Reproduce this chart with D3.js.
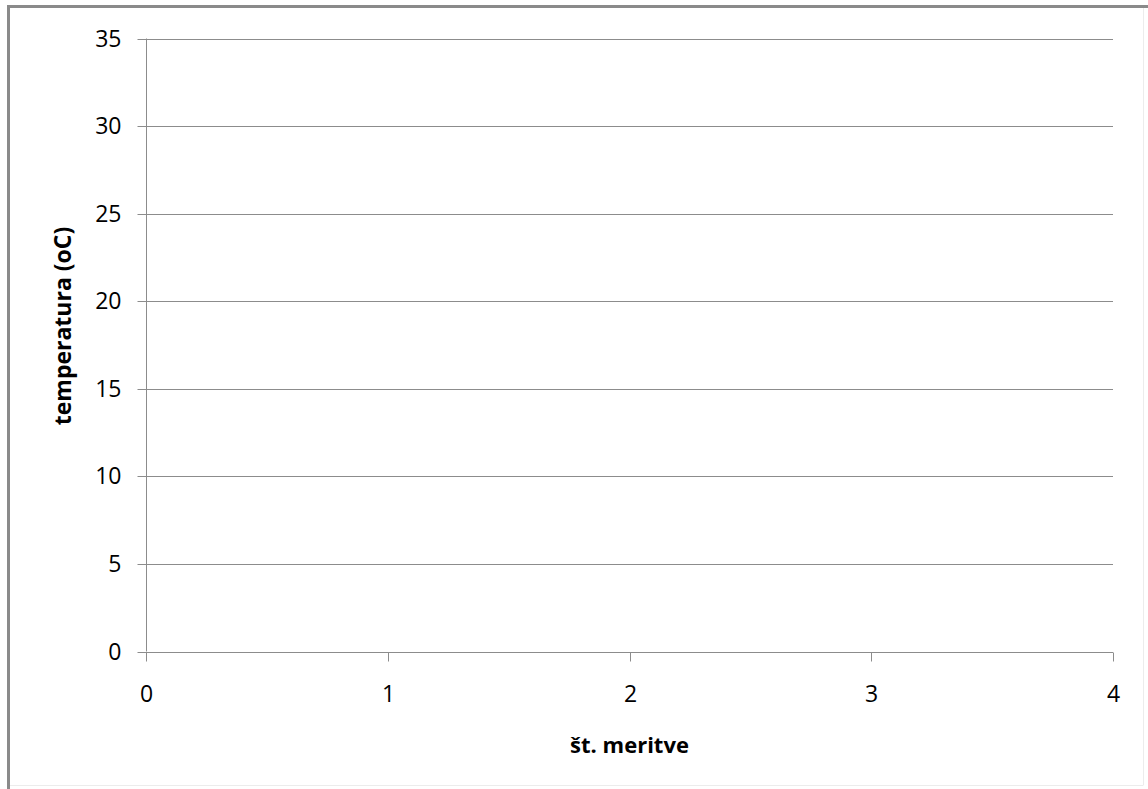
<!DOCTYPE html>
<html>
<head>
<meta charset="utf-8">
<script src="https://cdn.jsdelivr.net/npm/d3@7"></script>
<style>
  html, body { margin: 0; padding: 0; background: #fff; }
  svg { display: block; }
  text { font-family: "Open Sans", "Noto Sans", sans-serif; fill: #000; }
</style>
</head>
<body>
<svg id="chart" width="1148" height="789"></svg>
<script>
// Data (the chart contains no series, only empty axes)
const xTicks = [0, 1, 2, 3, 4];
const yTicks = [0, 5, 10, 15, 20, 25, 30, 35];
const seriesValues = [];
const xTitle = "št. meritve";
const yTitle = "temperatura (oC)";

const svg = d3.select("#chart");
const W = 1148, H = 789;
const plot = { left: 146, right: 1113, top: 38.5, bottom: 651.5 };

// outer chart-area border
svg.append("rect").attr("x", 0).attr("y", 0).attr("width", W).attr("height", H).attr("fill", "#fff");
svg.append("line").attr("x1", 7.5).attr("x2", W).attr("y1", 6.5).attr("y2", 6.5)
  .attr("stroke", "#8a8a8a").attr("stroke-width", 3);
svg.append("line").attr("x1", 8.5).attr("x2", 8.5).attr("y1", 5).attr("y2", H)
  .attr("stroke", "#8a8a8a").attr("stroke-width", 3);
svg.append("line").attr("x1", 1143.5).attr("x2", 1143.5).attr("y1", 8).attr("y2", 785)
  .attr("stroke", "#ececec").attr("stroke-width", 1);
svg.append("line").attr("x1", 10).attr("x2", 1143.5).attr("y1", 785.5).attr("y2", 785.5)
  .attr("stroke", "#ececec").attr("stroke-width", 1);

const x = d3.scaleLinear().domain([0, 4]).range([plot.left, plot.right]);
const y = d3.scaleLinear().domain([0, 35]).range([plot.bottom, plot.top]);

const gridColor = "#8c8c8c";

// horizontal gridlines
svg.append("g").selectAll("line").data(yTicks.filter(d => d > 0)).join("line")
  .attr("x1", plot.left).attr("x2", plot.right)
  .attr("y1", d => Math.round(y(d)) + 0.5).attr("y2", d => Math.round(y(d)) + 0.5)
  .attr("stroke", gridColor).attr("stroke-width", 1);

// y axis
const yAxis = d3.axisLeft(y).tickValues(yTicks).tickSize(9).tickPadding(16)
  .tickFormat(d3.format("d"));
const gy = svg.append("g").attr("transform", `translate(${Math.round(plot.left) + 0.5},0)`).call(yAxis);
gy.select(".domain").attr("stroke", gridColor).attr("d", `M0,${plot.top}V${plot.bottom}`);
gy.selectAll(".tick").attr("transform", d => `translate(0,${Math.round(y(d)) + 0.5})`);
gy.selectAll(".tick line").attr("stroke", gridColor);
gy.selectAll(".tick text").attr("font-size", 23).attr("fill", "#000")
  .attr("font-family", "'Open Sans', sans-serif").attr("dy", "0.33em");

// x axis
const xAxis = d3.axisBottom(x).tickValues(xTicks).tickSize(9).tickPadding(24)
  .tickFormat(d3.format("d"));
const gx = svg.append("g").attr("transform", `translate(0,${Math.round(plot.bottom) + 0.5})`).call(xAxis);
gx.select(".domain").attr("stroke", gridColor).attr("d", `M${plot.left},0H${plot.right}`);
gx.selectAll(".tick").attr("transform", d => `translate(${Math.round(x(d)) + 0.5},0)`);
gx.selectAll(".tick line").attr("stroke", gridColor);
gx.selectAll(".tick text").attr("font-size", 23).attr("fill", "#000")
  .attr("font-family", "'Open Sans', sans-serif").attr("dy", "0.71em");

// axis titles
svg.append("text").attr("x", (plot.left + plot.right) / 2).attr("y", 753)
  .attr("text-anchor", "middle").attr("font-weight", "bold").attr("font-size", 22)
  .text(xTitle);
svg.append("text").attr("transform", "translate(71,326) rotate(-90)")
  .attr("text-anchor", "middle").attr("font-weight", "bold").attr("font-size", 23)
  .text(yTitle);
</script>
</body>
</html>
